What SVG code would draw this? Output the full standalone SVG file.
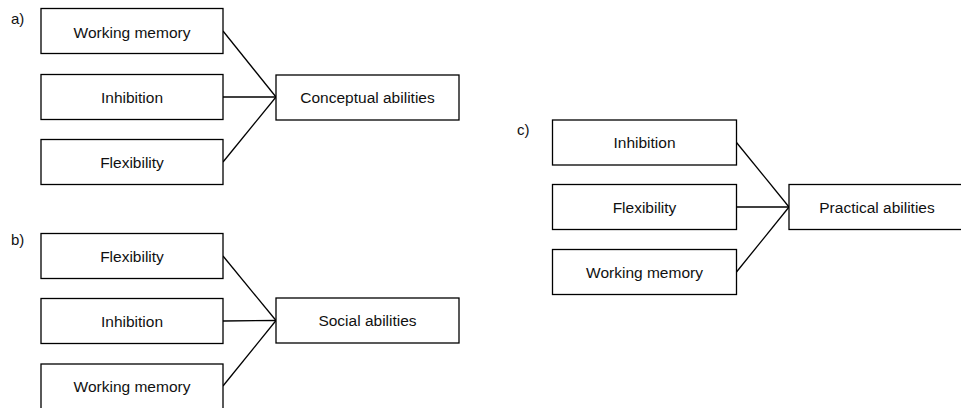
<svg xmlns="http://www.w3.org/2000/svg" width="961" height="408" viewBox="0 0 961 408">
<style>
rect{fill:#fff;stroke:#000;stroke-width:1.3}
text{font-family:"Liberation Sans",Arial,sans-serif;font-size:15.5px;fill:#111;text-anchor:middle}
text.lbl{font-size:15px;text-anchor:start}
#connectors line{stroke:#000;stroke-width:1.3}
</style>
<rect x="0" y="0" width="961" height="408" style="fill:#fff;stroke:none"/>
<text class="lbl" x="11" y="24">a)</text>
<text class="lbl" x="11" y="245">b)</text>
<text class="lbl" x="517" y="135">c)</text>
<g id="connectors">
<line x1="223" y1="31" x2="276" y2="97"/>
<line x1="223" y1="97" x2="276" y2="97"/>
<line x1="223" y1="162" x2="276" y2="97"/>
<line x1="223" y1="256" x2="276" y2="320.5"/>
<line x1="223" y1="321" x2="276" y2="320.5"/>
<line x1="223" y1="386" x2="276" y2="320.5"/>
<line x1="736.5" y1="142.5" x2="789" y2="207"/>
<line x1="736.5" y1="207" x2="789" y2="207"/>
<line x1="736.5" y1="272" x2="789" y2="207"/>
</g>
<g id="a_wm"><rect x="41" y="8.5" width="182" height="45"/><text x="132" y="37.5">Working memory</text></g>
<g id="a_inh"><rect x="41" y="74.5" width="182" height="45"/><text x="132" y="102.5">Inhibition</text></g>
<g id="a_flex"><rect x="41" y="139.5" width="182" height="45"/><text x="132" y="167.5">Flexibility</text></g>
<g id="a_concept"><rect x="276" y="75" width="183" height="45"/><text x="367.5" y="103">Conceptual abilities</text></g>
<g id="b_flex"><rect x="41" y="233.5" width="182" height="45"/><text x="132" y="261.5">Flexibility</text></g>
<g id="b_inh"><rect x="41" y="298.5" width="182" height="45"/><text x="132" y="326.5">Inhibition</text></g>
<g id="b_wm"><rect x="41" y="364" width="182" height="46"/><text x="132" y="391.5">Working memory</text></g>
<g id="b_social"><rect x="276" y="298" width="183" height="45"/><text x="367.5" y="326">Social abilities</text></g>
<g id="c_inh"><rect x="552.5" y="120" width="184" height="45"/><text x="644.5" y="148">Inhibition</text></g>
<g id="c_flex"><rect x="552.5" y="184.5" width="184" height="45"/><text x="644.5" y="212.5">Flexibility</text></g>
<g id="c_wm"><rect x="552.5" y="249.5" width="184" height="45"/><text x="644.5" y="277.5">Working memory</text></g>
<g id="c_practical"><rect x="789" y="184.5" width="185" height="45"/><text x="877" y="212.5">Practical abilities</text></g>
</svg>
